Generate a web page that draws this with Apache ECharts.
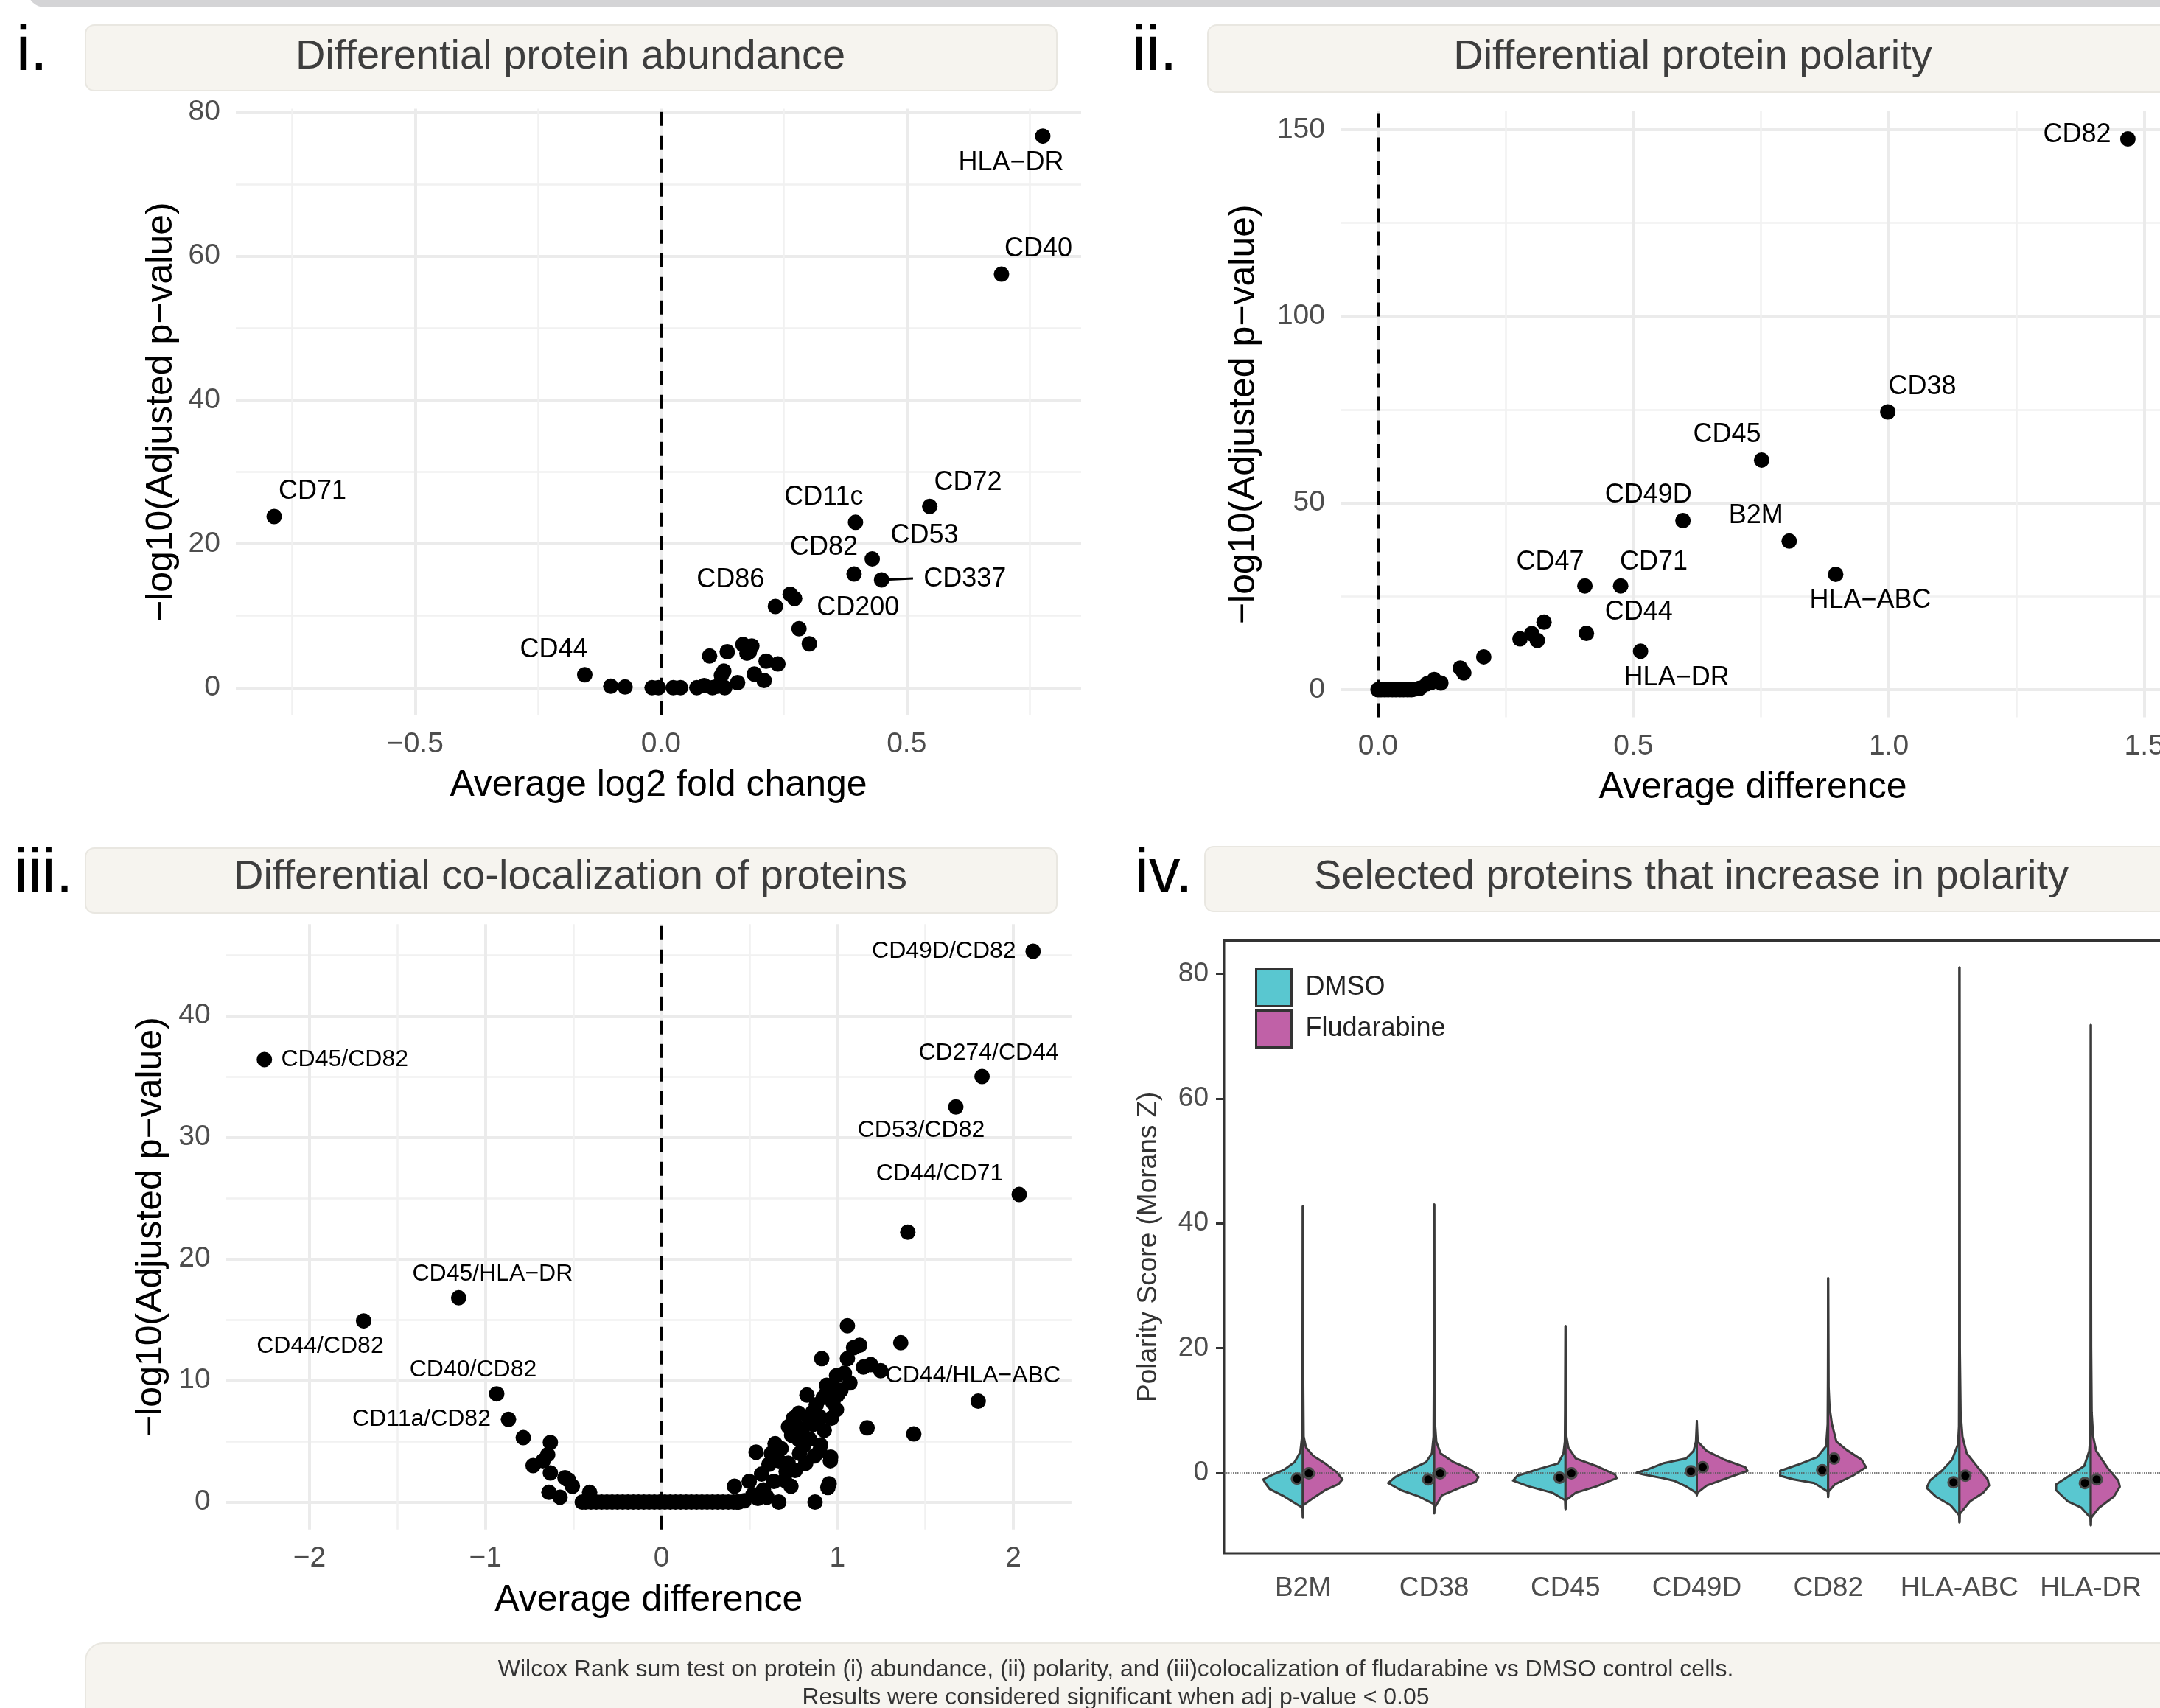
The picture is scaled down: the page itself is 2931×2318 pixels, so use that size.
<!DOCTYPE html>
<html>
<head>
<meta charset="utf-8">
<script src="https://cdn.jsdelivr.net/npm/echarts@6.0.0/dist/echarts.min.js"></script>
<style>
  html, body { margin: 0; padding: 0; background: #fff; }
  #chart { width: 2931px; height: 2318px; }
</style>
</head>
<body>
<div id="chart"></div>
<script>
// ---- panel i: differential protein abundance ----
const abundanceProteins = ['HLA−DR', 'CD40', 'CD71', 'CD72', 'CD11c', 'CD53', 'CD82', 'CD337', 'CD86', 'CD200', 'CD44',
  '', '', '', '', '', '', '', '', '', '', '', '', '', '', '', '', '', '', '', '', '', '', '', '', '', '', ''];
const abundanceLog2FC = [0.777, 0.693, -0.787, 0.547, 0.396, 0.430, 0.393, 0.449, 0.233, 0.272, -0.155,
  0.263, 0.281, 0.302, 0.099, 0.135, 0.167, 0.185, 0.175, 0.180, 0.214, 0.238, 0.128, 0.123, 0.190, 0.210,
  0.156, -0.102, -0.073, -0.018, -0.005, 0.025, 0.040, 0.073, 0.088, 0.105, 0.115, 0.130];
const abundanceNegLogP = [76.7, 57.5, 23.8, 25.2, 23.0, 17.9, 15.8, 15.0, 11.3, 12.4, 1.8,
  13.0, 8.2, 6.1, 4.4, 5.0, 6.0, 5.8, 4.8, 5.0, 3.7, 3.3, 2.3, 1.7, 1.9, 1.0,
  0.7, 0.2, 0.1, 0.0, 0.0, 0.0, 0.0, 0.0, 0.3, 0.0, 0.2, 0.0];

// ---- panel ii: differential protein polarity ----
const polarityProteins = ['CD82', 'CD38', 'CD45', 'CD49D', 'B2M', 'HLA−ABC', 'CD47', 'CD71', 'CD44', 'HLA−DR',
  '', '', '', '', '', '', '', '', '', '', '', '', '', '', '', '', '', '', '', '', '', '', ''];
const polarityDiff = [1.468, 0.998, 0.751, 0.597, 0.805, 0.896, 0.405, 0.475, 0.408, 0.514,
  0.325, 0.278, 0.301, 0.312, 0.207, 0.161, 0.168, 0.123, 0.110, 0.105, 0.096, 0.082, 0.070,
  0.065, 0.058, 0.050, 0.043, 0.035, 0.028, 0.020, 0.013, 0.006, 0.000];
const polarityNegLogP = [147.5, 74.4, 61.5, 45.3, 39.8, 30.9, 27.8, 27.8, 15.1, 10.3,
  18.1, 13.6, 15.0, 13.2, 8.8, 5.8, 4.5, 1.8, 2.7, 2.0, 1.6, 0.4, 0.1,
  0.0, 0.0, 0.0, 0.0, 0.0, 0.0, 0.0, 0.0, 0.0, 0.0];

// ---- panel iii: differential co-localization ----
const pairLabels = ['CD49D/CD82', 'CD45/CD82', 'CD274/CD44', 'CD53/CD82', 'CD44/CD71', 'CD45/HLA−DR',
  'CD44/CD82', 'CD40/CD82', 'CD11a/CD82', 'CD44/HLA−ABC'];
const pairDiffLabelled = [2.112, -2.256, 1.822, 1.673, 2.033, -1.152, -1.692, -0.936, -0.869, 1.800];
const pairNegLogPLabelled = [45.3, 36.4, 35.0, 32.5, 25.3, 16.8, 14.9, 8.9, 6.8, 8.3];
const pairDiffOther = [1.400, 1.434, 1.057, 1.360, 1.169, 0.911, 1.092, 1.127, 1.057, 1.148, 1.190, 1.246,
  0.995, 1.071, 0.939, 0.827, 0.974, 0.995, 0.966, 0.750, 0.722, 0.757, 0.834, 0.862, 0.925, 0.904,
  0.960, 0.953, 0.873, 0.538, 0.646, 0.625, 0.680, 0.778, 0.806, 0.785, 0.736, 0.667, 0.548, 0.415,
  0.499, 0.569, 0.611, 0.667, 0.709, 0.639, 0.471, 0.429,
  0.520, 0.580, 0.600, 0.700, 0.720, 0.760, 0.800, 0.840, 0.860, 0.880, 0.900, 0.920, 0.940, 0.980,
  1.000, 1.020, 1.040, 0.870, 0.820, 0.900, 0.780, 0.740, 0.946, 0.962,
  -0.785, -0.631, -0.646, -0.673, -0.729, -0.631, -0.548, -0.527, -0.506, -0.639, -0.576, -0.408, -0.450,
  -0.43, -0.40, -0.37, -0.34, -0.31, -0.28, -0.25, -0.22, -0.19, -0.16, -0.13, -0.10, -0.07, -0.04,
  -0.01, 0.02, 0.05, 0.08, 0.11, 0.14, 0.17, 0.20, 0.23, 0.26, 0.29, 0.32, 0.35, 0.38, 0.41, 0.44];
const pairNegLogPOther = [22.2, 5.6, 14.5, 13.1, 6.1, 11.8, 12.7, 12.9, 11.8, 11.1, 11.3, 10.8,
  10.4, 9.8, 9.6, 8.8, 8.2, 7.6, 6.9, 6.9, 6.2, 6.4, 7.0, 6.4, 5.9, 4.7,
  3.4, 1.5, 0.0, 4.1, 4.8, 4.0, 4.4, 5.2, 4.6, 4.0, 1.3, 0.0, 0.3, 1.3,
  1.7, 2.3, 3.1, 3.4, 2.5, 1.7, 0.1, 0.0,
  0.6, 1.0, 0.4, 1.8, 3.2, 2.6, 6.0, 5.2, 7.4, 8.0, 7.0, 8.6, 9.0, 9.4,
  8.8, 9.2, 10.6, 3.8, 3.2, 4.2, 7.3, 5.5, 1.2, 3.7,
  5.3, 4.9, 3.9, 3.4, 3.0, 2.4, 2.0, 1.8, 1.3, 0.8, 0.4, 0.8, 0.0,
  0, 0, 0, 0, 0, 0, 0, 0, 0, 0, 0, 0, 0, 0,
  0, 0, 0, 0, 0, 0, 0, 0, 0, 0, 0, 0, 0, 0, 0, 0];

// ---- panel iv: polarity score violins, profiles are [score, half width] ----
const violinProteins = ['B2M', 'CD38', 'CD45', 'CD49D', 'CD82', 'HLA-ABC', 'HLA-DR'];
const dmsoProfiles = [
  [[-7.1, 0], [-5.6, 0.003], [-3.8, 0.142], [-2.6, 0.253], [-1.65, 0.286], [-1.06, 0.302], [-0.3, 0.231], [0.5, 0.142], [1.7, 0.064], [3.3, 0.02], [5.8, 0.006], [15, 0.003], [42.7, 0]],
  [[-6.5, 0], [-5.0, 0.003], [-3.8, 0.118], [-2.8, 0.251], [-1.65, 0.351], [-0.67, 0.295], [0.7, 0.162], [1.7, 0.062], [3.1, 0.018], [5.8, 0.005], [15, 0.003], [43, 0]],
  [[-5.8, 0], [-4.4, 0.003], [-3.2, 0.1], [-2.2, 0.277], [-1.26, 0.4], [-0.47, 0.366], [0.7, 0.189], [1.5, 0.056], [3.1, 0.016], [5.0, 0.005], [10, 0.003], [23.5, 0]],
  [[-3.6, 0], [-3.2, 0.005], [-2.2, 0.08], [-1.3, 0.17], [-0.87, 0.259], [-0.3, 0.4], [0.0, 0.459], [0.5, 0.38], [1.5, 0.259], [2.3, 0.081], [3.5, 0.025], [5, 0.007], [8.3, 0]],
  [[-3.9, 0], [-3.0, 0.003], [-1.65, 0.106], [-1.06, 0.264], [-0.47, 0.366], [0.3, 0.366], [1.3, 0.23], [2.5, 0.084], [4.25, 0.016], [7.8, 0.004], [15, 0.002], [31.2, 0]],
  [[-7.95, 0], [-6.8, 0.003], [-5.2, 0.068], [-3.8, 0.181], [-2.44, 0.249], [-1.26, 0.226], [0.3, 0.135], [2.1, 0.056], [4.6, 0.011], [7.4, 0.004], [20, 0.002], [81, 0]],
  [[-8.4, 0], [-7.2, 0.003], [-5.6, 0.072], [-4.6, 0.174], [-2.8, 0.264], [-1.85, 0.264], [-0.47, 0.163], [1.1, 0.05], [3.5, 0.012], [5.8, 0.004], [20, 0.002], [71.8, 0]]
];
const fludarabineProfiles = [
  [[-7.1, 0], [-5.2, 0.003], [-4.2, 0.069], [-2.8, 0.169], [-1.85, 0.269], [-1.06, 0.302], [0.1, 0.258], [1.5, 0.169], [2.7, 0.08], [4.05, 0.024], [5.8, 0.006], [15, 0.003], [42.7, 0]],
  [[-6.5, 0], [-5.6, 0.003], [-3.6, 0.06], [-2.44, 0.193], [-1.46, 0.315], [-0.67, 0.337], [0.5, 0.282], [1.7, 0.149], [3.1, 0.049], [5.0, 0.016], [8, 0.006], [15, 0.003], [43, 0]],
  [[-5.8, 0], [-4.4, 0.003], [-3.2, 0.078], [-2.2, 0.233], [-0.87, 0.389], [-0.28, 0.377], [1.1, 0.233], [2.3, 0.078], [4.05, 0.022], [5.8, 0.007], [10, 0.003], [23.5, 0]],
  [[-3.6, 0], [-3.2, 0.005], [-2.05, 0.075], [-0.67, 0.255], [0.3, 0.386], [0.9, 0.368], [2.1, 0.21], [3.5, 0.075], [5.0, 0.007], [8.3, 0]],
  [[-3.9, 0], [-3.0, 0.003], [-1.85, 0.052], [-0.47, 0.188], [0.9, 0.289], [2.1, 0.255], [3.65, 0.142], [5.0, 0.063], [7.8, 0.029], [10.5, 0.011], [13.7, 0.004], [31.2, 0]],
  [[-7.95, 0], [-6.6, 0.003], [-4.6, 0.079], [-3.2, 0.181], [-2.05, 0.226], [-1.06, 0.215], [0.7, 0.147], [3.1, 0.056], [5.8, 0.023], [9.7, 0.009], [20, 0.003], [81, 0]],
  [[-8.4, 0], [-7.2, 0.003], [-5.6, 0.063], [-3.8, 0.176], [-2.24, 0.221], [-1.26, 0.21], [0.7, 0.131], [3.5, 0.041], [5.8, 0.018], [9.7, 0.007], [20, 0.003], [71.8, 0]]
];
const dmsoMedians = [-0.94, -1.06, -0.79, 0.25, 0.42, -1.53, -1.65];
const fludarabineMedians = [-0.08, -0.08, -0.08, 0.9, 2.28, -0.47, -1.06];

const FONT = '"Liberation Sans", Arial, Helvetica, sans-serif';
const DMSO_COLOR = '#59C7D0';
const FLUDA_COLOR = '#C061A7';
const DODGE = 0.045;

// label placement (pixels from the point), ggrepel-like
const abundanceOffsets = {
  'HLA−DR': [-43, 36], 'CD40': [50, -34], 'CD71': [52, -34], 'CD72': [52, -32], 'CD11c': [-43, -34],
  'CD53': [71, -32], 'CD82': [-41, -36], 'CD337': [113, -1], 'CD86': [-61, -36], 'CD200': [86, 13], 'CD44': [-42, -34]
};
const polarityOffsets = {
  'CD82': [-69, -6], 'CD38': [47, -34], 'CD45': [-47, -34], 'CD49D': [-47, -34], 'B2M': [-45, -34],
  'HLA−ABC': [47, 36], 'CD47': [-47, -32], 'CD71': [45, -32], 'CD44': [71, -28], 'HLA−DR': [49, 36]
};
const pairOffsets = {
  'CD49D/CD82': [-121, 0], 'CD45/CD82': [109, 0], 'CD274/CD44': [9, -32], 'CD53/CD82': [-47, 32],
  'CD44/CD71': [-108, -28], 'CD45/HLA−DR': [46, -32], 'CD44/CD82': [-59, 34], 'CD40/CD82': [-32, -32],
  'CD11a/CD82': [-118, 0], 'CD44/HLA−ABC': [-7, -34]
};

const minus = s => String(s).replace('-', '−');

function volcanoAxes(grid, xr, yr, xName, xGap, yGap, xFmt) {
  const common = {
    gridIndex: grid, type: 'value',
    axisLine: { show: false }, axisTick: { show: false },
    splitLine: { show: true, showMinLine: false, showMaxLine: false, lineStyle: { color: '#EBEBEB', width: 4 } },
    minorTick: { show: false, splitNumber: 2 },
    minorSplitLine: { show: true, lineStyle: { color: '#F1F1F1', width: 2.5 } },
    nameLocation: 'middle', nameMoveOverlap: false,
    nameTextStyle: { fontSize: 50, color: '#000', fontFamily: FONT }
  };
  const x = Object.assign({}, common, {
    min: xr[0], max: xr[1], minInterval: xr[2], maxInterval: xr[2],
    name: xName, nameGap: xGap,
    axisLabel: { color: '#4D4D4D', fontSize: 39, fontFamily: FONT, margin: 20, showMinLabel: false, showMaxLabel: false, formatter: xFmt }
  });
  const y = Object.assign({}, common, {
    min: yr[0], max: yr[1], minInterval: yr[2], maxInterval: yr[2],
    name: '−log10(Adjusted p−value)', nameGap: yGap, nameRotate: 90,
    axisLabel: { color: '#4D4D4D', fontSize: 39, fontFamily: FONT, margin: 21, showMinLabel: false, showMaxLabel: false }
  });
  return [x, y];
}

function volcanoSeries(grid, names, xs, ys, offsets, fontSize, extraLines) {
  return {
    type: 'scatter', xAxisIndex: grid, yAxisIndex: grid, silent: true, z: 2,
    symbolSize: 21,
    itemStyle: { color: '#000', opacity: 1 },
    label: { position: 'inside', formatter: '{b}', color: '#000', fontSize: fontSize, fontFamily: FONT },
    data: xs.map((x, i) => ({
      value: [x, ys[i]], name: names[i],
      label: names[i] ? { show: true, offset: offsets[names[i]] } : { show: false }
    })),
    markLine: {
      silent: true, symbol: 'none', z: 1, label: { show: false },
      lineStyle: { color: '#000', width: 4.5, type: [19, 13] },
      data: [{ xAxis: 0 }].concat(extraLines || [])
    }
  };
}

const fmt1 = v => minus(v.toFixed(1));
const axI = volcanoAxes(0, [-0.865, 0.855, 0.5], [-3.84, 80.5, 20], 'Average log2 fold change', 70, 76, fmt1);
const axII = volcanoAxes(1, [-0.0734, 1.541, 0.5], [-7.375, 154.9, 50], 'Average difference', 71, 106, fmt1);
const axIII = volcanoAxes(2, [-2.474, 2.33, 1], [-2.26, 47.53, 10], 'Average difference', 71, 76, v => minus(v));

// CD337 label sits away from its point: connect with a short segment
const cd337 = abundanceProteins.indexOf('CD337');
const cd337Segment = [[
  { coord: [abundanceLog2FC[cd337], abundanceNegLogP[cd337]], lineStyle: { type: 'solid', width: 3, color: '#000' } },
  { coord: [abundanceLog2FC[cd337] + 0.064, abundanceNegLogP[cd337] + 0.2], lineStyle: { type: 'solid', width: 3, color: '#000' } }
]];

function violinSeries(name, profiles, color, side) {
  return {
    type: 'custom', name: name, xAxisIndex: 3, yAxisIndex: 3, silent: true, z: 2,
    itemStyle: { color: color },
    data: violinProteins.map((p, i) => [i + 1, 0]),
    renderItem: function (params, api) {
      const i = params.dataIndex;
      const prof = profiles[i];
      const cx = i + 1;
      const pts = [api.coord([cx, prof[0][0]])];
      prof.forEach(p => pts.push(api.coord([cx + side * p[1], p[0]])));
      pts.push(api.coord([cx, prof[prof.length - 1][0]]));
      return {
        type: 'polygon', shape: { points: pts },
        style: { fill: color, stroke: '#3B3B3B', lineWidth: 3, lineJoin: 'round' }
      };
    }
  };
}

function medianSeries(name, medians, side) {
  return {
    type: 'scatter', name: name, xAxisIndex: 3, yAxisIndex: 3, silent: true, z: 5,
    symbolSize: 14,
    itemStyle: { color: '#000', opacity: 1, borderColor: '#4A4A4A', borderWidth: 3 },
    data: medians.map((m, i) => [i + 1 + side * DODGE, m])
  };
}

function stripRect(x, y, w, h) {
  return { type: 'rect', shape: { x: x, y: y, width: w, height: h, r: 12 }, style: { fill: '#F6F4EF', stroke: '#E9E7E1', lineWidth: 2 }, z: 0 };
}
function text(str, x, y, size, color, align) {
  return {
    type: 'text', z: 1,
    style: { text: str, x: x, y: y, font: size + 'px ' + FONT, fill: color, align: align || 'center', textAlign: align || 'center', verticalAlign: 'middle', textVerticalAlign: 'middle' }
  };
}

const chart = echarts.init(document.getElementById('chart'), null, { renderer: 'canvas' });
chart.setOption({
  animation: false,
  backgroundColor: '#fff',
  textStyle: { fontFamily: FONT },
  grid: [
    { left: 320, top: 147.6, width: 1147, height: 823.2, outerBoundsMode: 'none', containLabel: false },
    { left: 1819, top: 151.1, width: 1119, height: 822.3, outerBoundsMode: 'none', containLabel: false },
    { left: 306.7, top: 1254.3, width: 1147.2, height: 821.5, outerBoundsMode: 'none', containLabel: false },
    { left: 1661, top: 1276.6, width: 1283, height: 831.4, outerBoundsMode: 'none', containLabel: false, show: true, borderColor: '#333', borderWidth: 3, backgroundColor: 'transparent' }
  ],
  xAxis: [axI[0], axII[0], axIII[0], {
    gridIndex: 3, type: 'value', min: 0.4, max: 7.6, minInterval: 1, maxInterval: 1,
    axisLine: { show: false }, splitLine: { show: false },
    axisTick: { show: true, length: 11, customValues: [1, 2, 3, 4, 5, 6, 7], lineStyle: { color: '#333', width: 3 } },
    axisLabel: { color: '#4D4D4D', fontSize: 37, fontFamily: FONT, margin: 29, showMinLabel: false, showMaxLabel: false,
      formatter: v => violinProteins[Math.round(v) - 1] || '' }
  }],
  yAxis: [axI[1], axII[1], axIII[1], {
    gridIndex: 3, type: 'value', min: -12.9, max: 85.3, minInterval: 20, maxInterval: 20,
    axisLine: { show: false }, splitLine: { show: false },
    axisTick: { show: true, length: 11, customValues: [0, 20, 40, 60, 80], lineStyle: { color: '#333', width: 3 } },
    axisLabel: { color: '#4D4D4D', fontSize: 37, fontFamily: FONT, margin: 21, showMinLabel: false, showMaxLabel: false },
    name: 'Polarity Score (Morans Z)', nameLocation: 'middle', nameRotate: 90, nameGap: 84, nameMoveOverlap: false,
    nameTextStyle: { fontSize: 37, color: '#333', fontFamily: FONT }
  }],
  legend: {
    data: ['DMSO', 'Fludarabine'], orient: 'vertical', left: 1703, top: 1314,
    itemWidth: 48, itemHeight: 50, itemGap: 3, icon: 'rect', padding: 0, selectedMode: false,
    itemStyle: { borderColor: '#333', borderWidth: 3 },
    textStyle: { fontSize: 36, color: '#222', fontFamily: FONT, padding: [0, 0, 0, 14] }
  },
  series: [
    volcanoSeries(0, abundanceProteins, abundanceLog2FC, abundanceNegLogP, abundanceOffsets, 36, cd337Segment),
    volcanoSeries(1, polarityProteins, polarityDiff, polarityNegLogP, polarityOffsets, 36),
    volcanoSeries(2, pairLabels.concat(pairDiffOther.map(() => '')), pairDiffLabelled.concat(pairDiffOther),
      pairNegLogPLabelled.concat(pairNegLogPOther), pairOffsets, 32),
    Object.assign(violinSeries('DMSO', dmsoProfiles, DMSO_COLOR, -1), {
      markLine: { silent: true, symbol: 'none', z: 4, label: { show: false },
        lineStyle: { color: '#555', width: 1.5, type: 'dotted' }, data: [{ yAxis: 0 }] }
    }),
    violinSeries('Fludarabine', fludarabineProfiles, FLUDA_COLOR, 1),
    medianSeries('DMSO median', dmsoMedians, -1),
    medianSeries('Fludarabine median', fludarabineMedians, 1)
  ],
  graphic: { elements: [
    { type: 'rect', shape: { x: 37, y: -40, width: 2960, height: 50, r: 24 }, style: { fill: '#D4D4D6' }, z: 0 },
    stripRect(116, 34, 1318, 89), stripRect(1639, 34, 1400, 91),
    stripRect(116, 1151, 1318, 88), stripRect(1635, 1149, 1400, 88),
    { type: 'rect', shape: { x: 116, y: 2230, width: 2900, height: 200, r: 24 }, style: { fill: '#F6F4EF', stroke: '#E9E7E1', lineWidth: 2 }, z: 0 },
    text('Differential protein abundance', 774, 78, 56, '#3D3D3D'),
    text('Differential protein polarity', 2297, 78, 56, '#3D3D3D'),
    text('Differential co-localization of proteins', 774, 1191, 56, '#3D3D3D'),
    text('Selected proteins that increase in polarity', 2295, 1191, 56, '#3D3D3D'),
    text('i.', 22, 72, 85, '#000', 'left'),
    text('ii.', 1536, 72, 85, '#000', 'left'),
    text('iii.', 19, 1188, 85, '#000', 'left'),
    text('iv.', 1540, 1188, 85, '#000', 'left'),
    text('Wilcox Rank sum test on protein (i) abundance, (ii) polarity, and (iii)colocalization of fludarabine vs DMSO control cells.', 1514, 2266, 32, '#333'),
    text('Results were considered significant when adj p-value < 0.05', 1514, 2304, 32, '#333')
  ] }
});
</script>
</body>
</html>
